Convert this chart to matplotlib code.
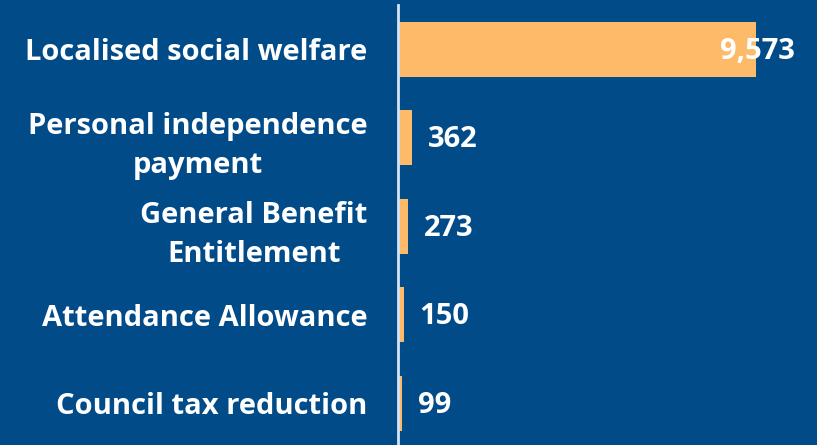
import matplotlib.pyplot as plt

categories = ["Localised social welfare", "Personal independence\npayment",
              "General Benefit\nEntitlement", "Attendance Allowance",
              "Council tax reduction"]
values = [9573, 362, 273, 150, 99]

bg = "#024b89"
bar_col = "#fdbb6a"

plt.rcParams['font.family'] = ['Open Sans', 'DejaVu Sans']

fig = plt.figure(figsize=(8.17, 4.45), dpi=100, facecolor=bg)
ax = fig.add_axes([398 / 817, 0, 1 - 398 / 817, 440 / 445])
ax.set_facecolor(bg)

pos = list(range(len(values)))
ax.barh(pos, values, height=0.62, color=bar_col, zorder=2)
ax.set_ylim(4.47, -0.5)
xmax = 9573 * 419 / 358
ax.set_xlim(0, xmax)

for s in ["top", "right", "bottom"]:
    ax.spines[s].set_visible(False)
ax.spines["left"].set_color("#d4e4f4")
ax.spines["left"].set_linewidth(2)
ax.spines["left"].set_zorder(3)
ax.set_xticks([])
ax.set_yticks(pos)
labels = ax.set_yticklabels(categories, fontsize=21, fontweight="bold", color="white",
                            linespacing=1.45)
for lab in labels:
    lab.set_multialignment("center")
ax.tick_params(axis="y", length=0, pad=22)

pad = 16 * xmax / 419
for p, v in zip(pos, values):
    label = f"{v:,}"
    if v + pad + 2000 > xmax:
        ax.text(xmax - 22 * xmax / 419, p + 0.02, label, ha="right", va="center",
                fontsize=21, fontweight="bold", color="white", zorder=4)
    else:
        ax.text(v + pad, p + 0.02, label, ha="left", va="center",
                fontsize=21, fontweight="bold", color="white", zorder=4)

fig.savefig("out.png", dpi=100, facecolor=bg)
